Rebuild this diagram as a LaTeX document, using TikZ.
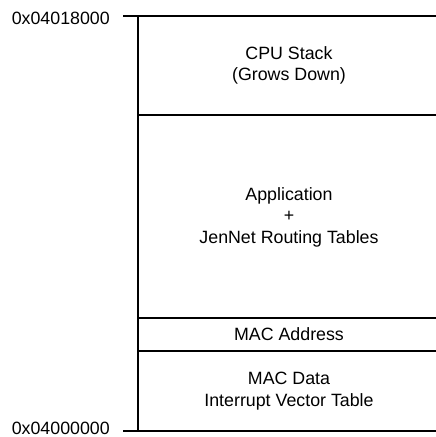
\documentclass[tikz,border=0pt]{standalone}
\usepackage{fontspec}
\setmainfont{Liberation Sans}
\begin{document}
\begin{tikzpicture}[x=1pt,y=-1pt,
  hline/.style={line width=1.5pt},
  vline/.style={line width=2pt},
  seclabel/.style={align=center,inner sep=0pt,font=\fontsize{17.8pt}{21.5pt}\selectfont},
  addr/.style={anchor=base east,inner sep=0pt,font=\fontsize{17.8pt}{21.5pt}\selectfont}]
\useasboundingbox (0,0) rectangle (436,437);
% coordinates
\coordinate (topL) at (123,16);
\coordinate (topR) at (436,16);
\coordinate (vTop) at (138,16);
\coordinate (vBot) at (138,431);
\coordinate (b1L) at (138,115);
\coordinate (b1R) at (436,115);
\coordinate (b2L) at (138,318);
\coordinate (b2R) at (436,318);
\coordinate (b3L) at (138,351);
\coordinate (b3R) at (436,351);
\coordinate (botL) at (123,431);
\coordinate (botR) at (436,431);
% lines
\draw[hline] (topL) -- (topR);
\draw[hline] (b1L) -- (b1R);
\draw[hline] (b2L) -- (b2R);
\draw[hline] (b3L) -- (b3R);
\draw[hline] (botL) -- (botR);
\draw[vline] (vTop) -- (vBot);
% labels
\node[addr] (atop) at (110,24) {0x04018000};
\node[addr] (abot) at (110,434) {0x04000000};
\node[seclabel] (stack) at (289,65.5) {CPU Stack\\(Grows Down)};
\node[seclabel] (app) at (289,217) {Application\\+\\JenNet Routing Tables};
\node[seclabel] (macaddr) at (289,334.5) {MAC Address};
\node[seclabel] (macdata) at (289,391) {MAC Data\\Interrupt Vector Table};
\end{tikzpicture}
\end{document}
